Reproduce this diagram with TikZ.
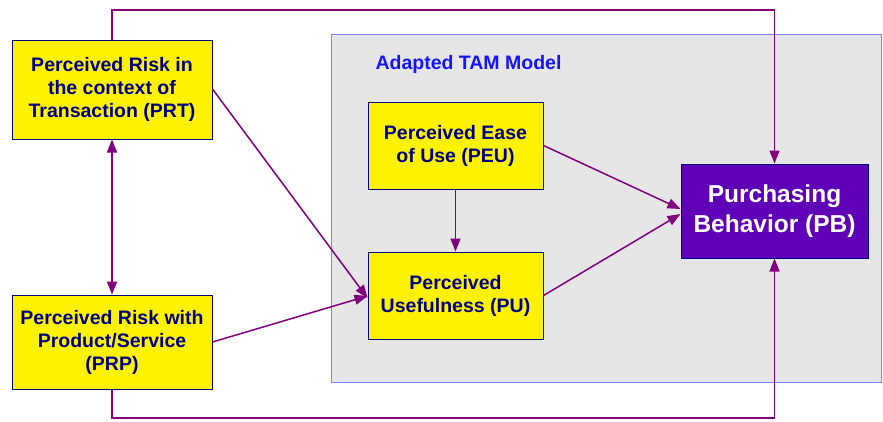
\documentclass[tikz,border=0pt]{standalone}
\usepackage{fontspec}
\setmainfont{Liberation Sans}
\usetikzlibrary{arrows.meta}
\definecolor{arr}{HTML}{800080}
\definecolor{navy}{HTML}{000080}
\definecolor{pbfill}{HTML}{5F00B8}
\definecolor{tamfill}{HTML}{E6E6E6}
\definecolor{tamline}{HTML}{7F7FFF}
\definecolor{tamtext}{HTML}{1414FF}
\begin{document}
\begin{tikzpicture}[x=1pt,y=-1pt,
  ybox/.style={draw=navy,fill=yellow,line width=1pt,inner sep=0pt,align=center,
    font=\fontsize{19.5}{23}\selectfont\bfseries,text=navy},
  conn/.style={draw=arr,line width=1.5pt,-{Triangle[length=13pt,width=10pt]}},
  dconn/.style={draw=arr,line width=1.5pt,{Triangle[length=13pt,width=10pt]}-{Triangle[length=13pt,width=10pt]}}]
\useasboundingbox (0,0) rectangle (883,421);
\node[draw=tamline,fill=tamfill,line width=1pt,minimum width=550pt,minimum height=348pt,inner sep=0pt] (tam) at (606,208) {};
\node[text=tamtext,font=\fontsize{19.5}{22}\selectfont\bfseries] (tamlabel) at (468.5,64) {Adapted TAM Model};
\node[ybox,minimum width=200pt,minimum height=99pt] (prt) at (112,89.5) {Perceived Risk in\\the context of\\Transaction (PRT)};
\node[ybox,minimum width=200pt,minimum height=94pt] (prp) at (112,342) {Perceived Risk with\\Product/Service\\(PRP)};
\node[ybox,minimum width=175pt,minimum height=87pt] (peu) at (455.5,145.5) {Perceived Ease\\of Use (PEU)};
\node[ybox,minimum width=175pt,minimum height=87pt] (pu) at (455.5,295.5) {Perceived\\Usefulness (PU)};
\node[draw=navy,fill=pbfill,line width=1pt,minimum width=187pt,minimum height=94pt,inner sep=0pt,align=center,
  text=white,font=\fontsize{24.5}{30}\selectfont\bfseries] (pb) at (774.5,211) {Purchasing\\Behavior (PB)};
\coordinate (t1) at (112,10);
\coordinate (t2) at (774.5,10);
\coordinate (b1) at (112,418);
\coordinate (b2) at (774.5,418);
\draw[dconn] (prt.south) -- (prp.north);
\draw[conn] (prt.north) -- (t1) -- (t2) -- (pb.north);
\draw[conn] (prp.south) -- (b1) -- (b2) -- (pb.south);
\draw[conn] (prt.east |- 0,89) -- (pu.west |- 0,298);
\draw[conn] (prp.east) -- (pu.west |- 0,296);
\draw[conn] (peu.south) -- (pu.north);
\draw[conn] (peu.east) -- (pb.west |- 0,209);
\draw[conn] (pu.east) -- (pb.west |- 0,214);
\end{tikzpicture}
\end{document}
